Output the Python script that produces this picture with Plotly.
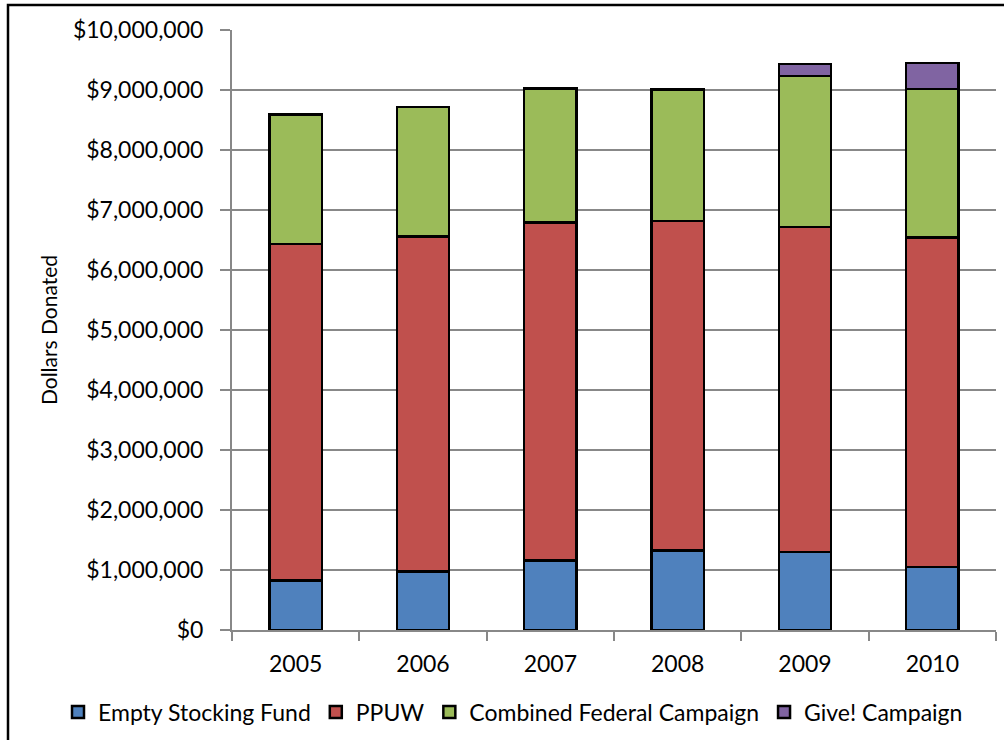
import plotly.graph_objects as go

years = ["2005", "2006", "2007", "2008", "2009", "2010"]
empty_stocking_fund = [822000, 978000, 1155000, 1328000, 1300000, 1050000]
ppuw = [5608000, 5577000, 5640000, 5492000, 5417000, 5490000]
combined_federal = [2165000, 2162000, 2227000, 2190000, 2516000, 2477000]
give_campaign = [0, 0, 0, 0, 200000, 433000]

series = [
    ("Empty Stocking Fund", empty_stocking_fund, "#4F81BD"),
    ("PPUW", ppuw, "#C0504D"),
    ("Combined Federal Campaign", combined_federal, "#9BBB59"),
    ("Give! Campaign", give_campaign, "#8064A2"),
]

W, H = 1004, 740
L, R, T, B = 232, 8, 30, 110
PW, PH = W - L - R, H - T - B

fig = go.Figure()
for name, vals, color in series:
    fig.add_trace(go.Bar(
        x=years, y=vals, name=name,
        marker=dict(color=color, line=dict(color="black", width=2.5)),
    ))

grid = "#888888"
fig.update_layout(
    width=W, height=H,
    margin=dict(l=L, r=R, t=T, b=B, autoexpand=False),
    barmode="stack", bargap=0.59,
    paper_bgcolor="white", plot_bgcolor="white",
    font=dict(family="Lato", size=23, color="black"),
    showlegend=True,
    legend=dict(
        orientation="h", traceorder="normal",
        x=(58 - L) / PW, xanchor="left",
        y=(H - B - 712) / PH, yanchor="middle",
        font=dict(size=23), itemwidth=30, tracegroupgap=0,
    ),
    xaxis=dict(
        type="category", showgrid=False,
        showline=True, linecolor=grid, linewidth=2,
        ticks="outside", tickson="boundaries", ticklen=9,
        tickcolor=grid, tickwidth=2, ticklabelstandoff=12,
    ),
    yaxis=dict(
        range=[0, 10000000], dtick=1000000,
        tickprefix="$", tickformat=",d",
        showgrid=True, gridcolor=grid, gridwidth=2,
        showline=True, linecolor=grid, linewidth=2,
        ticks="outside", ticklen=10, tickcolor=grid, tickwidth=2,
        ticklabelstandoff=12,
        zeroline=False,
        title=dict(text="Dollars Donated", standoff=10, font=dict(size=21)),
    ),
)

# chart frame
fig.add_shape(
    type="rect", xref="paper", yref="paper",
    x0=(8 - L) / PW, x1=(W + 20 - L) / PW,
    y0=(H - B - (H + 20)) / PH, y1=(H - B - 5) / PH,
    line=dict(color="black", width=2.5), fillcolor="rgba(0,0,0,0)",
    layer="below",
)

fig.write_html("out.html")
